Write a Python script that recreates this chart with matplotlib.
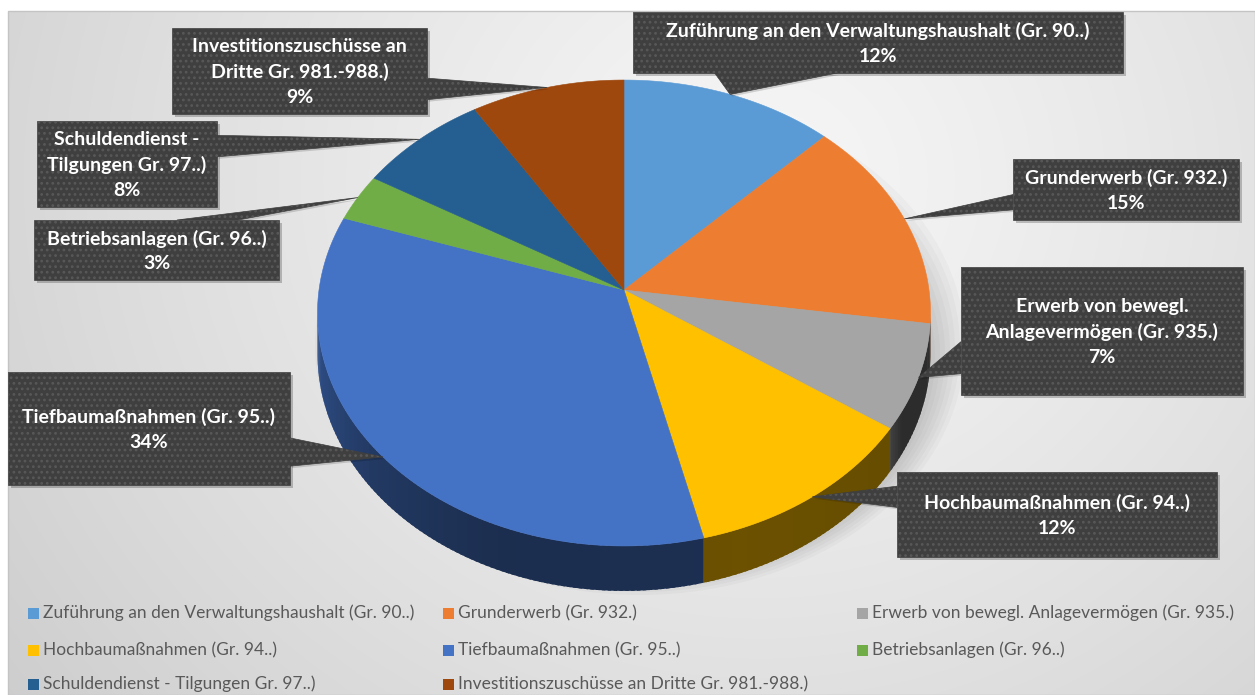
import numpy as np
import matplotlib.pyplot as plt
from matplotlib.patches import Polygon, Rectangle, Ellipse
from matplotlib.colors import to_rgb

# data
categories = [
    "Zuführung an den Verwaltungshaushalt (Gr. 90..)",
    "Grunderwerb (Gr. 932.)",
    "Erwerb von bewegl. Anlagevermögen (Gr. 935.)",
    "Hochbaumaßnahmen (Gr. 94..)",
    "Tiefbaumaßnahmen (Gr. 95..)",
    "Betriebsanlagen (Gr. 96..)",
    "Schuldendienst - Tilgungen Gr. 97..)",
    "Investitionszuschüsse an Dritte Gr. 981.-988.)",
]
values = [12.4, 14.9, 7.3, 11.6, 34.0, 3.3, 7.6, 8.9]
colors = ['#5B9BD5', '#ED7D31', '#A5A5A5', '#FFC000',
          '#4472C4', '#70AD47', '#255E91', '#9E480E']
label_names = [
    "Zuführung an den Verwaltungshaushalt (Gr. 90..)",
    "Grunderwerb (Gr. 932.)",
    "Erwerb von bewegl.\nAnlagevermögen (Gr. 935.)",
    "Hochbaumaßnahmen (Gr. 94..)",
    "Tiefbaumaßnahmen (Gr. 95..)",
    "Betriebsanlagen (Gr. 96..)",
    "Schuldendienst -\nTilgungen Gr. 97..)",
    "Investitionszuschüsse an\nDritte Gr. 981.-988.)",
]
# label box positions (x0, y0, x1, y1) in pixels
label_boxes = [
    (633, 12, 1123, 73),
    (1013, 159, 1239, 220),
    (961, 267, 1243, 395),
    (897, 472, 1217, 557),
    (8, 372, 290, 485),
    (34, 220, 279, 280),
    (37, 121, 217, 207),
    (172, 28, 427, 114),
]

W, H = 1255, 695
fig = plt.figure(figsize=(W / 100, H / 100), dpi=100)
ax = fig.add_axes([0, 0, 1, 1])
ax.set_xlim(0, W)
ax.set_ylim(H, 0)
ax.axis('off')

# background panel with soft gradient
gx, gy = np.meshgrid(np.arange(8, W), np.arange(11, H))
dist = np.hypot(gx - 760, (gy - 180) * 1.1)
g = np.clip(0.965 - 0.15 * (dist / 900) ** 1.2, 0, 1)
ax.imshow(np.dstack([g, g, g]), extent=(8, W, H, 11), zorder=0, aspect='auto')
ax.add_patch(Rectangle((8, 11), W - 8, H - 11, fill=False, ec='#c4c4c4', lw=1, zorder=1))

# 3D pie geometry
cx, cy = 624, 290
rx, ry = 305, 230.7
persp = 0.0987
depth = 40.5


def rim(cw, dy=0.0):
    t = np.radians(90 - np.asarray(cw))
    x, y = np.cos(t), np.sin(t)
    d = 1 + persp * y
    return cx + rx * x / d, cy - ry * y / d + dy / d


def shade(cw):
    return np.interp(cw, [95, 120, 125, 160, 200, 230, 265],
                     [0.26, 0.27, 0.40, 0.42, 0.40, 0.5, 0.72])


# soft shadow under the pie
for i in range(8):
    ax.add_patch(Ellipse((640, 345 + i * 2), 650 - i * 10, 500 - i * 10,
                         fc='black', ec='none', alpha=0.025, zorder=2))

total = sum(values)
cum = np.concatenate([[0], np.cumsum(values)]) / total * 360
ts = np.degrees(np.arcsin(persp))

# side of the pie
for i in range(len(values)):
    lo, hi = max(cum[i], 90 + ts), min(cum[i + 1], 270 - ts)
    if lo >= hi:
        continue
    steps = np.linspace(lo, hi, max(2, int(hi - lo) + 2))
    base = np.array(to_rgb(colors[i]))
    for a, b in zip(steps[:-1], steps[1:]):
        b2 = min(b + 0.6, hi)
        xa, ya = rim(a)
        xb, yb = rim(b2)
        xa2, ya2 = rim(a, depth)
        xb2, yb2 = rim(b2, depth)
        c = base * shade((a + b) / 2)
        ax.add_patch(Polygon([(xa, ya), (xb, yb), (xb2, yb2), (xa2, ya2)],
                             closed=True, fc=c, ec='none', lw=0, zorder=3))

# top of the pie
for i in range(len(values)):
    a = np.linspace(cum[i], cum[i + 1], int(cum[i + 1] - cum[i]) + 2)
    xs, ys = rim(a)
    pts = [(cx, cy)] + list(zip(xs, ys))
    ax.add_patch(Polygon(pts, closed=True, fc=colors[i], ec=colors[i], lw=0.4, zorder=4))


# data labels as callouts
def callout(box, tip, text):
    x0, y0, x1, y1 = box
    w, h = x1 - x0, y1 - y0
    mx, my = (x0 + x1) / 2, (y0 + y1) / 2
    dx, dy = (tip[0] - mx) / w, (tip[1] - my) / h
    if abs(dx) > abs(dy):
        ex = x1 if dx > 0 else x0
        f = (2 / 12, 5 / 12) if dy < 0 else (7 / 12, 10 / 12)
        base = [(ex, y0 + h * f[0]), (ex, y0 + h * f[1])]
    else:
        ey = y1 if dy > 0 else y0
        f = (2 / 12, 5 / 12) if dx < 0 else (7 / 12, 10 / 12)
        base = [(x0 + w * f[0], ey), (x0 + w * f[1], ey)]
    tri = [base[0], tip, base[1]]
    # shadow
    ax.add_patch(Rectangle((x0 + 3, y0 + 3), w, h, fc='black', ec='none', alpha=0.22, zorder=5))
    ax.add_patch(Polygon([(p[0] + 2, p[1] + 2) for p in tri], fc='black', ec='none', alpha=0.15, zorder=5))
    for patch in (Rectangle((x0, y0), w, h), Polygon(tri)):
        patch.set_facecolor('#3f3f3f')
        patch.set_edgecolor('#3f3f3f')
        patch.set_linewidth(0.5)
        patch.set_zorder(6)
        ax.add_patch(patch)
    for patch in (Rectangle((x0, y0), w, h), Polygon(tri)):
        patch.set_facecolor('none')
        patch.set_edgecolor('#585858')
        patch.set_hatch('...')
        patch.set_linewidth(0)
        patch.set_zorder(7)
        ax.add_patch(patch)
    ax.text(mx, my + 1, text, ha='center', va='center', color='white',
            fontsize=14, fontweight='bold', family='Lato', linespacing=1.55, zorder=8)


plt.rcParams['hatch.linewidth'] = 1.2
for i in range(len(values)):
    mid = (cum[i] + cum[i + 1]) / 2
    tip = rim(mid)
    pct = round(values[i] / total * 100)
    callout(label_boxes[i], tip, f"{label_names[i]}\n{pct}%")

# legend
leg_x = [28, 443, 857]
leg_y = [613, 650, 684]
for i, name in enumerate(categories):
    r, c = divmod(i, 3)
    ax.add_patch(Rectangle((leg_x[c], leg_y[r] - 5.5), 11, 11, fc=colors[i], ec='none', zorder=5))
    ax.text(leg_x[c] + 15, leg_y[r], name, ha='left', va='center', color='#595959',
            fontsize=12.5, family='Lato', zorder=5)

fig.savefig('out.png', dpi=100)
